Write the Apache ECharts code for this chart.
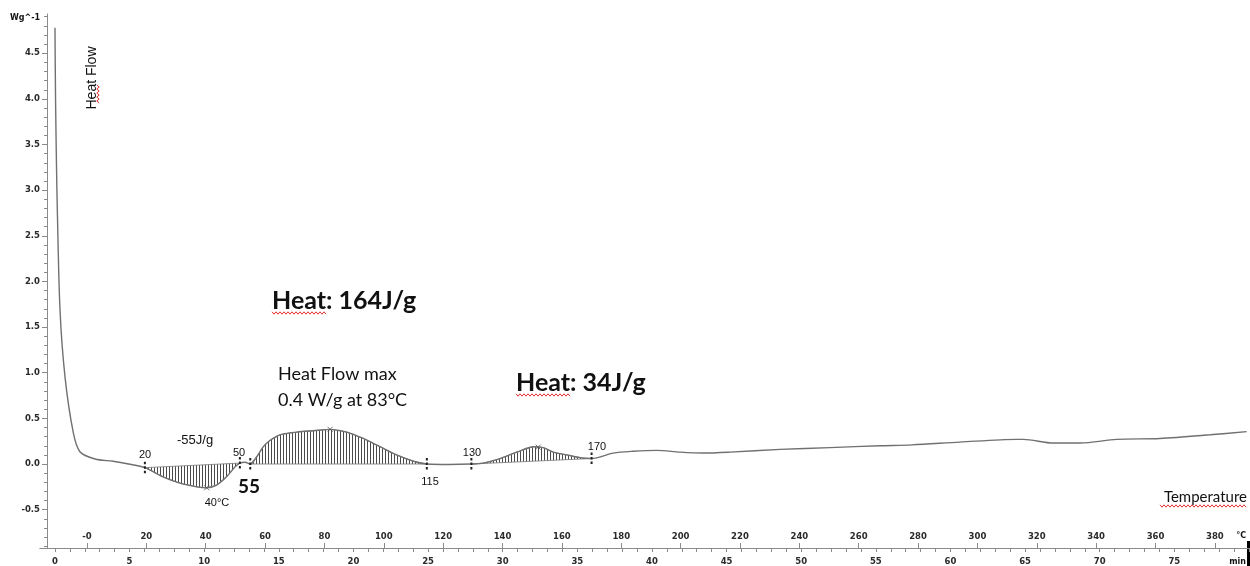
<!DOCTYPE html>
<html>
<head>
<meta charset="utf-8">
<title>DSC heat flow</title>
<script src="https://cdn.jsdelivr.net/npm/echarts@6/dist/echarts.min.js"></script>
<style>html,body{margin:0;padding:0;background:#fff}#a{width:1250px;height:566px}</style>
</head>
<body>
<div id="a"></div>
<script>
// heat flow curve: x in °C (upper scale), y in W/g
var tempC = [-10.8, -10.6, -10.3, -10.0, -9.1, -7.4, -4.6, -2.4, 2.7, 8.8, 14, 19.5,
  25.6, 31.3, 37, 40.3, 43.7, 47, 49.9, 51.5, 53.2, 55,
  57.2, 59.4, 61.7, 65, 70.7, 76.2, 81.9, 87.5, 93.1, 98.7, 104.3, 110, 114.5,
  122, 129.5, 133.5, 139.2, 144.8, 150.4, 153.7, 157.1, 161.6, 166.1, 170,
  177.3, 184, 192, 199.8, 207.6, 216.6, 233.5, 250.3, 267.2, 278, 294.1,
  313.2, 315.5, 325.6, 334.6, 346.9, 361.5, 378.4, 390.7];
var heatFlow = [4.78, 4.0, 3.3, 2.78, 1.69, 0.95, 0.34, 0.135, 0.055, 0.03, 0.0, -0.04,
  -0.14, -0.21, -0.25, -0.26, -0.23, -0.14, -0.03, 0.01, 0.02, 0.0,
  0.08, 0.19, 0.26, 0.32, 0.35, 0.365, 0.38, 0.35, 0.28, 0.19, 0.10, 0.03, 0.0,
  -0.005, 0.0, 0.01, 0.06, 0.13, 0.19, 0.18, 0.13, 0.10, 0.07, 0.06,
  0.12, 0.14, 0.15, 0.13, 0.12, 0.13, 0.16, 0.18, 0.2, 0.21, 0.24,
  0.27, 0.27, 0.23, 0.23, 0.27, 0.28, 0.32, 0.355];

// integrated peaks (hatched), limits in °C
var peakFrom = [19.5, 55, 129.5];
var peakTo = [51.5, 114.5, 170];

// limit markers on the curve
var markT = [19.5, 51.5, 55, 114.5, 129.5, 170];
var markV = [-0.04, 0.01, 0.0, 0.0, 0.0, 0.06];

// peak tops (small crosses)
var topT = [40.3, 81.9, 152];
var topV = [-0.26, 0.38, 0.185];

// axes
var tempTicks = [0, 20, 40, 60, 80, 100, 120, 140, 160, 180, 200, 220, 240, 260, 280, 300, 320, 340, 360, 380];
var tempLabels = ['-0', '20', '40', '60', '80', '100', '120', '140', '160', '180', '200', '220', '240', '260', '280', '300', '320', '340', '360', '380'];
var timeLabels = [0, 5, 10, 15, 20, 25, 30, 35, 40, 45, 50, 55, 60, 65, 70, 75];
var yLabels = [-0.5, 0, 0.5, 1, 1.5, 2, 2.5, 3, 3.5, 4, 4.5];

var timeTicks = [];
for (var m = 0; m <= 80; m++) timeTicks.push(m);
var yMinor = [];
for (var k = -9; k <= 49; k++) yMinor.push(k / 10);

var hatch = document.createElement('canvas');
hatch.width = 3; hatch.height = 4;
var hc = hatch.getContext('2d');
hc.fillStyle = '#4a4a4a';
hc.fillRect(1, 0, 1, 4);

function squiggle(x1, x2, y, vertical) {
  var pts = [];
  for (var p = x1, s = 0; p <= x2; p += 2, s++) {
    var o = (s % 2 ? 1.2 : -1.2);
    pts.push(vertical ? [y + o, p] : [p, y + o]);
  }
  return { type: 'polyline', shape: { points: pts }, style: { stroke: '#e03030', lineWidth: 1, fill: null }, silent: true };
}

var axisFont = { color: '#2a2a2a', fontSize: 8.5, fontWeight: 'bold', fontFamily: 'DejaVu Sans' };
var txt = function (x, y, s, font, align) {
  return { type: 'text', x: x, y: y, style: { text: s, font: font, fill: '#111', align: align || 'left', verticalAlign: 'middle' } };
};

var myechart = echarts.init(document.getElementById('a'));
var option = {
  animation: false,
  grid: { left: 40, right: 1, top: 14, bottom: 18, containLabel: false },
  xAxis: [
    {
      type: 'value', position: 'bottom', min: -15.84, max: 391.5,
      axisLine: { onZero: false, lineStyle: { color: '#8a8a8a' } },
      axisTick: { inside: true, length: 5, customValues: tempTicks, lineStyle: { color: '#8a8a8a' } },
      axisLabel: Object.assign({ inside: true, margin: 7, customValues: tempTicks,
        formatter: function (v) { return tempLabels[tempTicks.indexOf(v)]; } }, axisFont),
      splitLine: { show: false }
    },
    {
      type: 'value', position: 'bottom', min: -1, max: 80,
      axisLine: { onZero: false, lineStyle: { color: '#8a8a8a' } },
      axisTick: { length: 4, customValues: timeTicks, lineStyle: { color: '#8a8a8a' } },
      axisLabel: Object.assign({ margin: 9, customValues: timeLabels }, axisFont),
      splitLine: { show: false }
    }
  ],
  yAxis: [
    {
      type: 'value', position: 'left', offset: -7, min: -0.92, max: 4.93,
      axisLine: { show: true, onZero: false, lineStyle: { color: '#8a8a8a' } },
      axisTick: { length: 5, customValues: yLabels, lineStyle: { color: '#8a8a8a' } },
      axisLabel: Object.assign({ margin: 7, customValues: yLabels,
        formatter: function (v) { return v.toFixed(1); } }, axisFont),
      splitLine: { show: false }
    },
    {
      type: 'value', position: 'left', offset: -7, min: -0.92, max: 4.93,
      axisLine: { show: false, onZero: false },
      axisTick: { length: 3, customValues: yMinor, lineStyle: { color: '#8a8a8a' } },
      axisLabel: { show: false },
      splitLine: { show: false }
    }
  ],
  series: [
    {
      type: 'custom', name: 'peak area', xAxisIndex: 0, yAxisIndex: 0, z: 1,
      data: peakFrom.map(function (f, i) { return [f, 0, peakTo[i]]; }),
      encode: { x: [0, 2], y: 1 },
      renderItem: function (params, api) {
        var i = params.dataIndex, pts = [];
        for (var j = 0; j < tempC.length; j++) {
          if (tempC[j] >= peakFrom[i] && tempC[j] <= peakTo[i]) pts.push(api.coord([tempC[j], heatFlow[j]]));
        }
        return { type: 'polygon', shape: { points: pts },
          style: { fill: { image: hatch, repeat: 'repeat' }, stroke: '#777', lineWidth: 0.8 } };
      }
    },
    {
      type: 'line', name: 'Heat Flow', xAxisIndex: 0, yAxisIndex: 0, z: 3,
      data: tempC.map(function (t, i) { return [t, heatFlow[i]]; }),
      showSymbol: false, smooth: 0.3,
      lineStyle: { color: '#707070', width: 1.4 }
    },
    {
      type: 'custom', name: 'limits', xAxisIndex: 0, yAxisIndex: 0, z: 4,
      data: markT.map(function (t, i) { return [t, markV[i]]; }),
      renderItem: function (params, api) {
        var p = api.coord([api.value(0), api.value(1)]);
        return { type: 'line', shape: { x1: p[0], y1: p[1] - 6, x2: p[0], y2: p[1] + 6 },
          style: { stroke: '#222', lineWidth: 2, lineDash: [2.5, 2] } };
      }
    },
    {
      type: 'scatter', name: 'tops', xAxisIndex: 0, yAxisIndex: 0, z: 4,
      data: topT.map(function (t, i) { return [t, topV[i]]; }),
      symbol: 'path://M0,0L10,10M10,0L0,10', symbolSize: 5,
      itemStyle: { color: 'none', borderColor: '#555', borderWidth: 1 }
    }
  ],
  graphic: [
    txt(10, 18, 'Wg^-1', 'bold 8px "DejaVu Sans"'),
    { type: 'text', x: 92, y: 78, rotation: Math.PI / 2,
      style: { text: 'Heat Flow', font: '14px "Liberation Sans"', fill: '#111', align: 'center', verticalAlign: 'middle' } },
    squiggle(85, 103, 98, true),
    txt(272, 301, 'Heat: 164J/g', 'bold 25px Lato'),
    squiggle(272, 327, 313),
    txt(278, 374, 'Heat Flow max', '18px Lato'),
    txt(278, 400, '0.4 W/g at 83°C', '18px Lato'),
    txt(516, 383, 'Heat: 34J/g', 'bold 25px Lato'),
    squiggle(516, 570, 395),
    txt(177, 440, '-55J/g', '13px "Liberation Sans"'),
    txt(145, 455, '20', '11px "Liberation Sans"', 'center'),
    txt(239, 453, '50', '11px "Liberation Sans"', 'center'),
    txt(249, 487, '55', 'bold 19px Lato', 'center'),
    txt(217, 503, '40°C', '11px "Liberation Sans"', 'center'),
    txt(430, 482, '115', '11px "Liberation Sans"', 'center'),
    txt(472, 453, '130', '11px "Liberation Sans"', 'center'),
    txt(597, 447, '170', '11px "Liberation Sans"', 'center'),
    txt(1247, 497, 'Temperature', '15px Lato', 'right'),
    squiggle(1160, 1247, 506),
    txt(1246, 536, '°C', 'bold 8px "DejaVu Sans"', 'right'),
    txt(1246, 562, 'min', 'bold 8px "DejaVu Sans"', 'right'),
    { type: 'rect', shape: { x: 1247, y: 541, width: 3, height: 25 }, style: { fill: '#000' } }
  ]
};
myechart.setOption(option);
</script>
</body>
</html>
